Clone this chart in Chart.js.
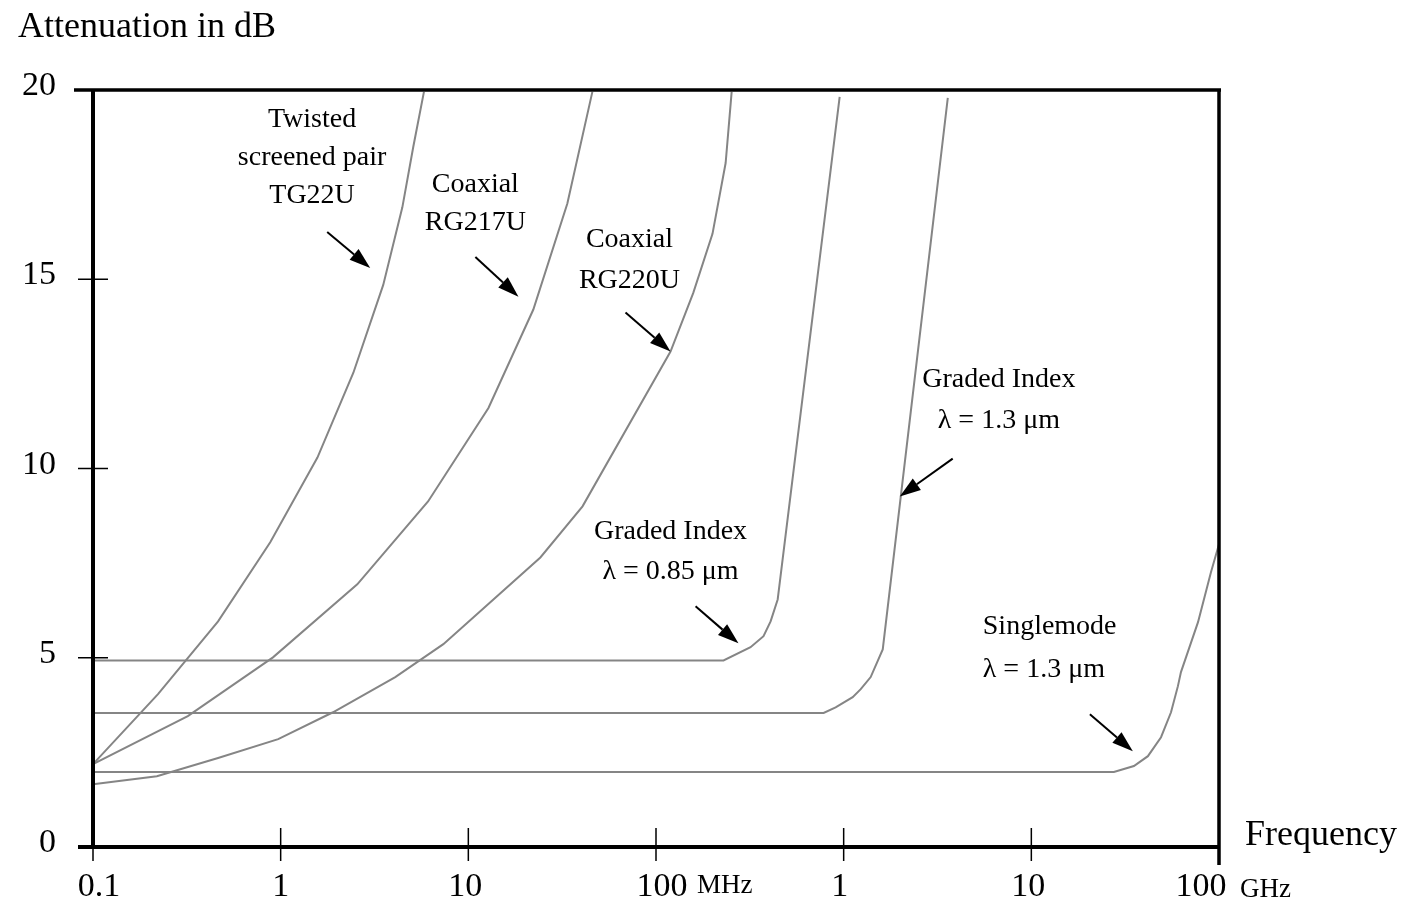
<!DOCTYPE html>
<html>
<head>
<meta charset="utf-8">
<script src="https://cdn.jsdelivr.net/npm/chart.js@4.4.1/dist/chart.umd.min.js"></script>
<style>
  html, body { margin: 0; padding: 0; background: #fff; }
  #wrap { width: 1407px; height: 905px; }
</style>
</head>
<body>
<div id="wrap"><canvas id="attenChart" width="1407" height="905"></canvas></div>
<script>
// frequency in MHz, attenuation in dB
const tg22uFreq = [0.1, 0.222, 0.464, 0.88, 1.57, 2.44, 3.52, 4.45, 5.09, 5.8];
const tg22uDb   = [2.19, 4.04, 5.96, 8.05, 10.29, 12.53, 14.85, 16.9, 18.5, 19.95];

const rg217uFreq = [0.1, 0.32, 0.91, 2.56, 6.1, 12.8, 22.2, 33.7, 45.8];
const rg217uDb   = [2.19, 3.46, 5.01, 6.94, 9.13, 11.6, 14.2, 17.0, 19.95];

const rg220uFreq = [0.1, 0.219, 0.464, 0.97, 1.9, 4.08, 7.36, 24.2, 40.6, 119.5, 158, 200, 235, 253];
const rg220uDb   = [1.66, 1.87, 2.35, 2.85, 3.56, 4.49, 5.36, 7.65, 9.0, 13.09, 14.64, 16.2, 18.07, 19.95];

const gi085Freq = [0.1, 229, 319, 374, 408, 445, 952];
const gi085Db   = [4.93, 4.93, 5.28, 5.57, 5.96, 6.54, 19.82];

const gi13Freq = [0.1, 782, 906, 1117, 1233, 1393, 1615, 3588];
const gi13Db   = [3.54, 3.54, 3.69, 3.96, 4.17, 4.49, 5.22, 19.79];

const smFreq = [0.1, 27540, 35200, 41800, 49100, 55500, 60400, 62700, 77300, 90600, 100000];
const smDb   = [1.98, 1.98, 2.14, 2.4, 2.9, 3.56, 4.25, 4.62, 5.94, 7.26, 8.0];

const xTickValues = [0.1, 1, 10, 100, 1000, 10000, 100000];
const xTickLabels = ['0.1', '1', '10', '100', '1', '10', '100'];
const yTickValues = [0, 5, 10, 15, 20];
const yTickLabels = ['0', '5', '10', '15', '20'];

// curve labels + arrows, anchored in data coords (MHz, dB)
const notes = [
  { lines: ['Twisted', 'screened pair', 'TG22U'], at: [1.47, 19.02], align: 'center', gap: 38, arrow: [[1.77, 16.25], [3.0, 15.30]] },
  { lines: ['Coaxial', 'RG217U'], at: [10.9, 17.31], align: 'center', gap: 38, arrow: [[10.9, 15.59], [18.5, 14.54]] },
  { lines: ['Coaxial', 'RG220U'], at: [72.2, 15.86], align: 'center', gap: 41, arrow: [[68.8, 14.12], [119.5, 13.09]] },
  { lines: ['Graded Index', 'λ = 0.85 μm'], at: [119.5, 8.13], align: 'center', gap: 40, arrow: [[162.5, 6.36], [275, 5.38]] },
  { lines: ['Graded Index', 'λ = 1.3 μm'], at: [6714, 12.16], align: 'center', gap: 41, arrow: [[3811, 10.26], [1990, 9.26]] },
  { lines: ['Singlemode', 'λ = 1.3 μm'], at: [5512, 5.62], align: 'left', gap: 43, arrow: [[20510, 3.51], [34750, 2.53]] }
];

const SERIF = '"Liberation Serif", "Times New Roman", serif';

function toPoints(xs, ys) {
  return xs.map((x, i) => ({ x: x, y: ys[i] }));
}

function curve(label, xs, ys) {
  return {
    label: label,
    data: toPoints(xs, ys),
    borderColor: '#858585',
    borderWidth: 2,
    showLine: true,
    tension: 0,
    pointRadius: 0,
    pointHoverRadius: 0,
    fill: false
  };
}

function drawArrow(ctx, x0, y0, x1, y1) {
  const ang = Math.atan2(y1 - y0, x1 - x0);
  const len = 21, half = 7;
  const bx = x1 - len * Math.cos(ang), by = y1 - len * Math.sin(ang);
  ctx.beginPath();
  ctx.moveTo(x0, y0);
  ctx.lineTo(bx, by);
  ctx.lineWidth = 2;
  ctx.stroke();
  ctx.beginPath();
  ctx.moveTo(x1, y1);
  ctx.lineTo(bx + half * Math.sin(ang), by - half * Math.cos(ang));
  ctx.lineTo(bx - half * Math.sin(ang), by + half * Math.cos(ang));
  ctx.closePath();
  ctx.fill();
}

// axes are drawn by hand so they look like the printed figure
const paperAxes = {
  id: 'paperAxes',
  afterDatasetsDraw(chart) {
    const { ctx, chartArea: a, scales: { x, y } } = chart;
    ctx.save();
    ctx.strokeStyle = '#000';
    ctx.fillStyle = '#000';
    ctx.lineCap = 'butt';

    // frame
    ctx.lineWidth = 4;
    ctx.beginPath();
    ctx.moveTo(a.left, a.top); ctx.lineTo(a.left, a.bottom + 2);
    ctx.moveTo(a.left - 15, a.bottom); ctx.lineTo(a.right, a.bottom);
    ctx.stroke();
    ctx.lineWidth = 3.5;
    ctx.beginPath();
    ctx.moveTo(a.left - 19, a.top); ctx.lineTo(a.right + 2, a.top);
    ctx.moveTo(a.right, a.top); ctx.lineTo(a.right, a.bottom + 18);
    ctx.stroke();

    // tick marks
    ctx.lineWidth = 1.5;
    ctx.beginPath();
    yTickValues.forEach(v => {
      if (v === 0 || v === 20) return;
      const py = y.getPixelForValue(v);
      ctx.moveTo(a.left - 15, py); ctx.lineTo(a.left + 15, py);
    });
    xTickValues.forEach((v, i) => {
      const px = x.getPixelForValue(v);
      if (i === 0) { ctx.moveTo(px, a.bottom); ctx.lineTo(px, a.bottom + 14); }
      else if (i < xTickValues.length - 1) { ctx.moveTo(px, a.bottom - 19); ctx.lineTo(px, a.bottom + 14); }
    });
    ctx.stroke();

    // tick labels
    ctx.font = '34px ' + SERIF;
    ctx.textAlign = 'right';
    ctx.textBaseline = 'alphabetic';
    yTickValues.forEach((v, i) => {
      ctx.fillText(yTickLabels[i], 56, y.getPixelForValue(v) + 5);
    });
    const xNudge = [6, 0, -3, 6, -4, -3, -18];
    ctx.textAlign = 'center';
    xTickValues.forEach((v, i) => {
      ctx.fillText(xTickLabels[i], x.getPixelForValue(v) + xNudge[i], 896);
    });
    ctx.font = '27px ' + SERIF;
    ctx.textAlign = 'left';
    ctx.fillText('MHz', x.getPixelForValue(100) + 41, 893);
    ctx.fillText('GHz', x.getPixelForValue(100000) + 21, 897);

    // axis titles
    ctx.font = '36px ' + SERIF;
    ctx.fillText('Attenuation in dB', 18, 37);
    ctx.fillText('Frequency', a.right + 26, 845);

    // curve annotations
    ctx.font = '28px ' + SERIF;
    notes.forEach(n => {
      ctx.textAlign = n.align;
      const px = x.getPixelForValue(n.at[0]);
      const py = y.getPixelForValue(n.at[1]);
      n.lines.forEach((t, k) => ctx.fillText(t, px, py + k * n.gap));
      drawArrow(ctx,
        x.getPixelForValue(n.arrow[0][0]), y.getPixelForValue(n.arrow[0][1]),
        x.getPixelForValue(n.arrow[1][0]), y.getPixelForValue(n.arrow[1][1]));
    });
    ctx.restore();
  }
};

const chart = new Chart(document.getElementById('attenChart').getContext('2d'), {
  type: 'scatter',
  data: {
    datasets: [
      curve('Twisted screened pair TG22U', tg22uFreq, tg22uDb),
      curve('Coaxial RG217U', rg217uFreq, rg217uDb),
      curve('Coaxial RG220U', rg220uFreq, rg220uDb),
      curve('Graded Index 0.85 um', gi085Freq, gi085Db),
      curve('Graded Index 1.3 um', gi13Freq, gi13Db),
      curve('Singlemode 1.3 um', smFreq, smDb)
    ]
  },
  options: {
    responsive: false,
    animation: false,
    layout: { padding: { left: 93, top: 90, right: 188, bottom: 58 } },
    plugins: { legend: { display: false }, tooltip: { enabled: false } },
    scales: {
      x: { type: 'logarithmic', min: 0.1, max: 100000, display: false },
      y: { type: 'linear', min: 0, max: 20, display: false }
    }
  },
  plugins: [paperAxes]
});
</script>
</body>
</html>
